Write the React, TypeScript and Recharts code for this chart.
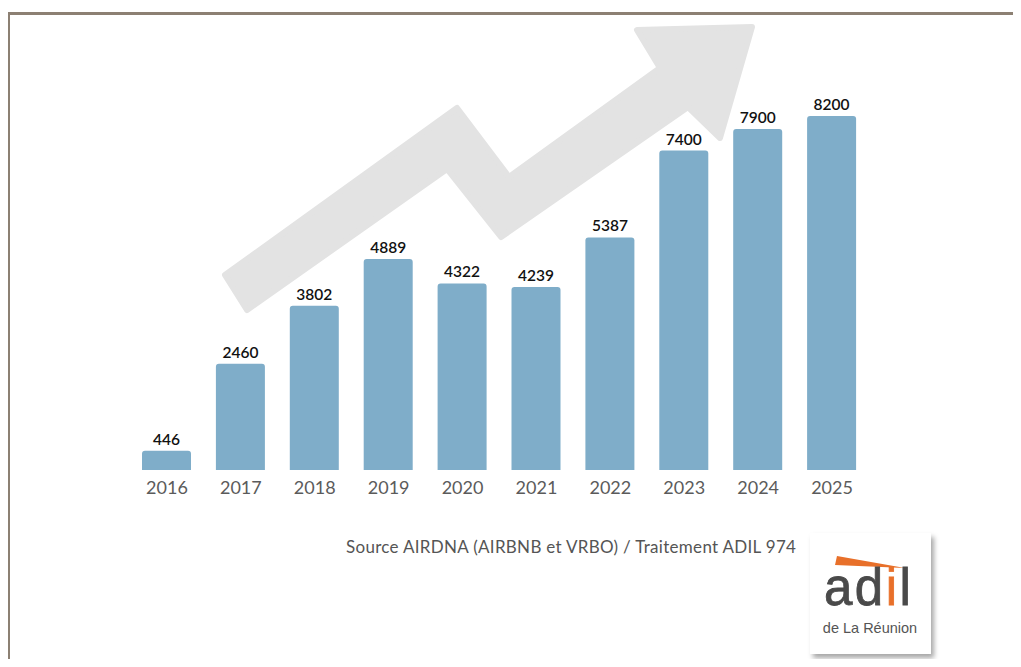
import { Bar, BarChart, LabelList, XAxis, YAxis } from 'recharts';

const years = ['2016', '2017', '2018', '2019', '2020', '2021', '2022', '2023', '2024', '2025'];
const listings = [446, 2460, 3802, 4889, 4322, 4239, 5387, 7400, 7900, 8200];
const sourceText = 'Source AIRDNA (AIRBNB et VRBO) / Traitement ADIL 974';

const data = years.map((year, i) => ({ year, value: listings[i] }));

// decorative trend arrow behind the bars
const arrowPoints =
  '225,275 457,108 509,177 660,68 637,30 752,27 720,138 688,107 501,237 447,169 247,310';

const logoFont = "'Liberation Sans', Arial, sans-serif";

function TrendArrow() {
  return (
    <svg
      width={1021}
      height={667}
      style={{ position: 'absolute', left: 0, top: 0, zIndex: 0 }}
    >
      <polygon
        points={arrowPoints}
        fill="#e3e3e3"
        stroke="#e3e3e3"
        strokeWidth={6}
        strokeLinejoin="round"
      />
    </svg>
  );
}

function Logo() {
  return (
    <div
      style={{
        position: 'absolute',
        left: 810,
        top: 533,
        width: 121,
        height: 121,
        background: '#fff',
        boxShadow: '3px 4px 5px rgba(0,0,0,0.35)',
        zIndex: 2,
      }}
    >
      <svg width={121} height={121}>
        <polygon points="27,23 95,35 25,32" fill="#e8702a" />
        <text
          x={14}
          y={72}
          fontFamily={logoFont}
          fontSize={51}
          letterSpacing={2.5}
          stroke="#4a4a4a"
          strokeWidth={0.8}
          fill="#4a4a4a"
        >
          ad<tspan fill="#e8702a" stroke="#e8702a">i</tspan>l
        </text>
        <text
          x={60}
          y={100}
          textAnchor="middle"
          fontFamily={logoFont}
          fontSize={14.5}
          fill="#555"
        >
          de La Réunion
        </text>
      </svg>
    </div>
  );
}

export default function App() {
  return (
    <div
      style={{
        position: 'relative',
        width: 1021,
        height: 667,
        margin: -8,
        overflow: 'hidden',
        background: '#fff',
      }}
    >
      <div
        style={{
          position: 'absolute',
          left: 7,
          top: 12,
          width: 1100,
          height: 800,
          borderTop: '3px solid #8c8073',
          borderLeft: '3px solid #8c8073',
        }}
      />
      <TrendArrow />
      <div style={{ position: 'absolute', left: 0, top: 0, zIndex: 1 }}>
        <BarChart
          width={1021}
          height={667}
          data={data}
          margin={{ top: 116, right: 152, bottom: 167, left: 130 }}
          barSize={49}
        >
          <XAxis
            dataKey="year"
            axisLine={false}
            tickLine={false}
            tickSize={0}
            tickMargin={11}
            height={30}
            interval={0}
            tick={{ fill: '#5b5b5b', fontSize: 18, fontFamily: 'Lato, sans-serif' }}
          />
          <YAxis hide domain={[0, 8200]} />
          <Bar dataKey="value" fill="#7fadc9" radius={[3, 3, 0, 0]} isAnimationActive={false}>
            <LabelList
              dataKey="value"
              position="top"
              offset={6}
              fill="#111"
              fontSize={15.5}
              fontWeight={600}
              fontFamily="Lato, sans-serif"
            />
          </Bar>
        </BarChart>
      </div>
      <div
        style={{
          position: 'absolute',
          left: 346,
          top: 536,
          fontFamily: 'Lato, sans-serif',
          fontSize: 17,
          letterSpacing: 0.3,
          color: '#555',
          whiteSpace: 'nowrap',
          zIndex: 2,
        }}
      >
        {sourceText}
      </div>
      <Logo />
    </div>
  );
}
